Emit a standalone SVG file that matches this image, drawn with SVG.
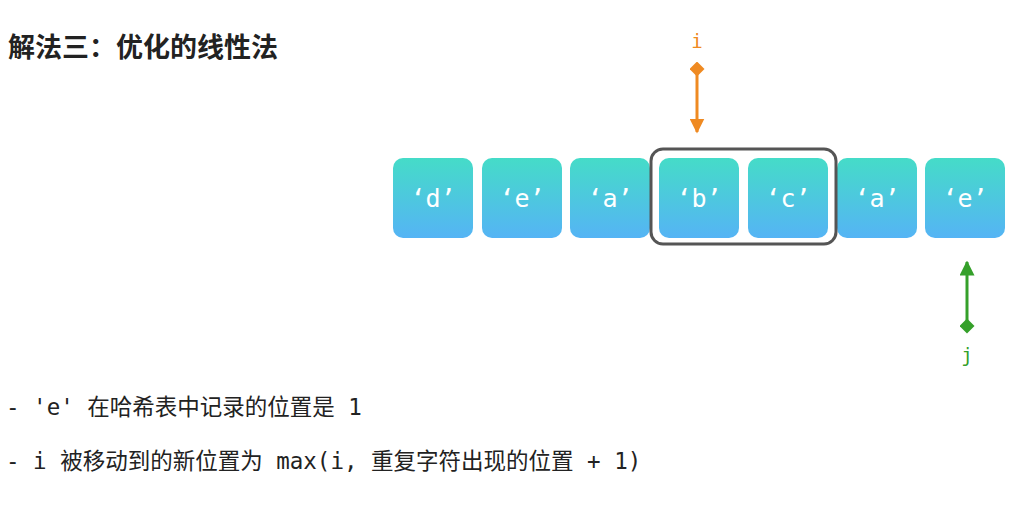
<svg xmlns="http://www.w3.org/2000/svg" width="1014" height="507" viewBox="0 0 1014 507">
<style>
.t{font-family:"Noto Sans CJK SC","Noto Sans",sans-serif;fill:#222}
.c{font-family:"DejaVu Sans Mono",monospace;font-size:25px;fill:#fff;text-anchor:middle}
.m{font-family:"DejaVu Sans Mono","Noto Sans CJK SC",monospace;font-size:22.5px;fill:#222}
</style>
<defs>
<linearGradient id="g" x1="0" y1="0" x2="0" y2="1"><stop offset="0" stop-color="#45dcc8"/><stop offset="1" stop-color="#55b4f5"/></linearGradient>
<marker id="ao" viewBox="0 0 10 10" refX="9" refY="5" markerWidth="5" markerHeight="5" orient="auto"><path d="M0,0L10,5L0,10z" fill="#ef8a22"/></marker>
<marker id="do" viewBox="0 0 10 10" refX="5" refY="5" markerWidth="5" markerHeight="5" orient="auto"><path d="M0,5L5,0L10,5L5,10z" fill="#ef8a22"/></marker>
<marker id="ag" viewBox="0 0 10 10" refX="9" refY="5" markerWidth="5" markerHeight="5" orient="auto"><path d="M0,0L10,5L0,10z" fill="#35a02a"/></marker>
<marker id="dg" viewBox="0 0 10 10" refX="5" refY="5" markerWidth="5" markerHeight="5" orient="auto"><path d="M0,5L5,0L10,5L5,10z" fill="#35a02a"/></marker>
</defs>
<rect width="1014" height="507" fill="#fff"/>
<text class="t" x="8" y="57" font-size="27" font-weight="bold">解法三：优化的线性法</text>
<g id="n0"><rect x="393" y="158" width="80" height="80" rx="10" fill="url(#g)"/><text class="c" x="433" y="207">‘d’</text></g>
<g id="n1"><rect x="482" y="158" width="80" height="80" rx="10" fill="url(#g)"/><text class="c" x="522" y="207">‘e’</text></g>
<g id="n2"><rect x="570" y="158" width="80" height="80" rx="10" fill="url(#g)"/><text class="c" x="610" y="207">‘a’</text></g>
<g id="n3"><rect x="659" y="158" width="80" height="80" rx="10" fill="url(#g)"/><text class="c" x="699" y="207">‘b’</text></g>
<g id="n4"><rect x="748" y="158" width="80" height="80" rx="10" fill="url(#g)"/><text class="c" x="788" y="207">‘c’</text></g>
<g id="n5"><rect x="837" y="158" width="80" height="80" rx="10" fill="url(#g)"/><text class="c" x="877" y="207">‘a’</text></g>
<g id="n6"><rect x="925" y="158" width="80" height="80" rx="10" fill="url(#g)"/><text class="c" x="965" y="207">‘e’</text></g>
<g id="window"><rect x="651" y="149" width="185" height="95" rx="12" fill="none" stroke="#555" stroke-width="3"/></g>
<g id="connectors">
<line x1="697" y1="69" x2="697" y2="132" stroke="#ef8a22" stroke-width="3" marker-start="url(#do)" marker-end="url(#ao)"/>
<line x1="967" y1="326" x2="967" y2="262" stroke="#35a02a" stroke-width="3" marker-start="url(#dg)" marker-end="url(#ag)"/>
</g>
<text x="697" y="48" font-family="DejaVu Sans Mono,monospace" font-size="19" fill="#ef8a22" text-anchor="middle">i</text>
<text x="967" y="362" font-family="DejaVu Sans Mono,monospace" font-size="19" fill="#35a02a" text-anchor="middle">j</text>
<text class="m" x="6" y="415">- 'e' 在哈希表中记录的位置是 1</text>
<text class="m" x="6" y="469">- i 被移动到的新位置为 max(i, 重复字符出现的位置 + 1)</text>
</svg>
